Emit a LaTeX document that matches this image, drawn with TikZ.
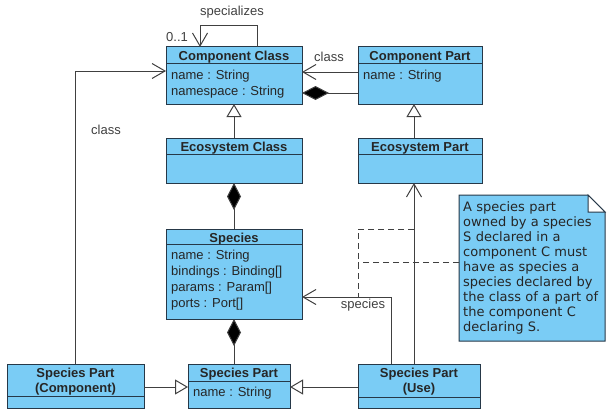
\documentclass[tikz,border=0pt]{standalone}
\usepackage{fontspec}
\setmainfont{Liberation Sans}
\newfontfamily\notefont{DejaVu Sans}
\usetikzlibrary{arrows.meta,positioning}

\definecolor{umlblue}{RGB}{122,204,245}
\definecolor{umledge}{RGB}{38,56,72}
\definecolor{linegray}{RGB}{64,64,64}

\tikzset{
  umlhead/.style={draw=umledge, fill=umlblue, line width=1pt, outer sep=0pt, inner sep=1pt,
    anchor=north west, align=center,
    font=\bfseries\fontsize{13}{15}\selectfont, text=black!85},
  umlbody/.style={draw=umledge, fill=umlblue, line width=1pt, outer sep=0pt, inner sep=0pt},
  attr/.style={anchor=north west, inner sep=0pt, align=left, font=\fontsize{13}{16}\selectfont, text=black!85},
  lbl/.style={font=\fontsize{13}{16}\selectfont, text=linegray, inner sep=1pt},
  notebox/.style={draw=umledge, fill=umlblue, line width=1pt},
  notetext/.style={anchor=north west, inner xsep=4pt, inner ysep=0pt, text width=138pt, align=left,
    minimum height=146pt, font=\notefont\fontsize{13}{15}\selectfont, text=black!85},
  assoc/.style={draw=linegray, line width=1pt, -{Straight Barb[length=13pt,width=15pt]}},
  gen/.style={draw=linegray, line width=1pt, -{Triangle[open,fill=white,length=13pt,width=15pt]}},
  comp/.style={draw=linegray, line width=1pt, {Diamond[length=27pt,width=14pt,fill=black]}-},
  notelink/.style={draw=linegray, line width=1pt, dash pattern=on 6pt off 4pt},
}

\begin{document}
\begin{tikzpicture}[x=1pt, y=-1pt]
  \useasboundingbox (0,0) rectangle (610,412);
  % class boxes: name/x/y/width/head height/body height/title lines/title
  \foreach \id/\x/\y/\w/\hh/\bh/\nl/\cname in {
      cc/166/47/136/17/40/1/Component Class,
      cp/358/47/124/17/40/1/Component Part,
      ec/166/138/136/16/29/1/Ecosystem Class,
      ep/358/138/124/16/29/1/Ecosystem Part,
      sp/166/229/136/15/75/1/Species,
      spc/7/364/137/32/12/2/{Species Part\\(Component)},
      spp/188/364/102/17/27/1/Species Part,
      spu/358/364/122/33/11/2/{Species Part\\(Use)}}
  {
    \pgfmathsetmacro\th{12.5+15*(\nl-1)}
    \pgfmathsetmacro\td{\hh-2-\th}
    \node[umlhead, minimum width=\w pt, minimum height=\hh pt, text height=\th pt, text depth=\td pt]
      (\id) at (\x,\y) {\cname};
    \node[umlbody, minimum width=\w pt, minimum height=\bh pt, below=0pt of \id] (\id-b) {};
  }
  \node[attr] (cc-a) at ([shift={(5,6)}]cc-b.north west) {name : String\\namespace : String};
  \node[attr] (cp-a) at ([shift={(5,6)}]cp-b.north west) {name : String};
  \node[attr] (sp-a) at ([shift={(5,6)}]sp-b.north west)
    {name : String\\bindings : Binding[]\\params : Param[]\\ports : Port[]};
  \node[attr] (spp-a) at ([shift={(5,6)}]spp-b.north west) {name : String};

  % note
  \coordinate (nNW) at (459,195);
  \draw[notebox] (nNW) -- ++(129,0) -- ++(17,17) -- ++(0,129) -- ++(-146,0) -- cycle;
  \draw[notebox, fill=white] (nNW) ++(129,0) -- ++(0,17) -- ++(17,0) -- cycle;
  \node[notetext] (note) at (nNW) {A species part\\owned by a species\\S declared in a\\component C must\\
    have as species a\\species declared by\\the class of a part of\\the component C\\declaring S.};

  % specializes loop
  \coordinate (loopR) at (257,26);
  \coordinate (loopL) at (200,26);
  \draw[assoc] (cc.north -| loopR) -- (loopR) -- (loopL) -- (cc.north -| loopL);
  \node[lbl] (spec) at (232,12) {specializes};
  \node[lbl] (mult) at (177,37) {0..1};

  % component part to component class
  \draw[assoc] (cp-b.west |- 0,72) -- (cc-b.east |- 0,72);
  \node[lbl] (cls1) at (329,57) {class};
  \draw[comp] (cc-b.east |- 0,93) -- (cp-b.west |- 0,93);

  % generalizations and compositions
  \draw[gen] (ec.north) -- (cc-b.south);
  \draw[gen] (ep.north -| 414,0) -- (cp-b.south -| 414,0);
  \draw[comp] (ec-b.south) -- (sp.north);
  \draw[comp] (sp-b.south) -- (spp.north -| sp-b.south);
  \draw[gen] (spc.east |- 0,387) -- (spp-b.west |- 0,387);
  \draw[gen] (spu.west |- 0,387) -- (spp-b.east |- 0,387);

  % associations of the species parts
  \draw[assoc] (spc.north -| 75,0) |- (cc-b.west |- 0,71);
  \node[lbl] (cls2) at (106,130) {class};
  \draw[assoc] (spu.north -| 391,0) |- (sp-b.east |- 0,297);
  \node[lbl] (spl) at (363,305) {species};
  \draw[assoc] (spu.north -| 414,0) -- (ep-b.south -| 414,0);

  % note attachment
  \coordinate (hookE) at (414,229);
  \coordinate (hookS) at (358,297);
  \draw[notelink] (hookE) -| (hookS);
  \draw[notelink] (note.west |- 0,262) -- (hookS |- 0,262);
\end{tikzpicture}
\end{document}
